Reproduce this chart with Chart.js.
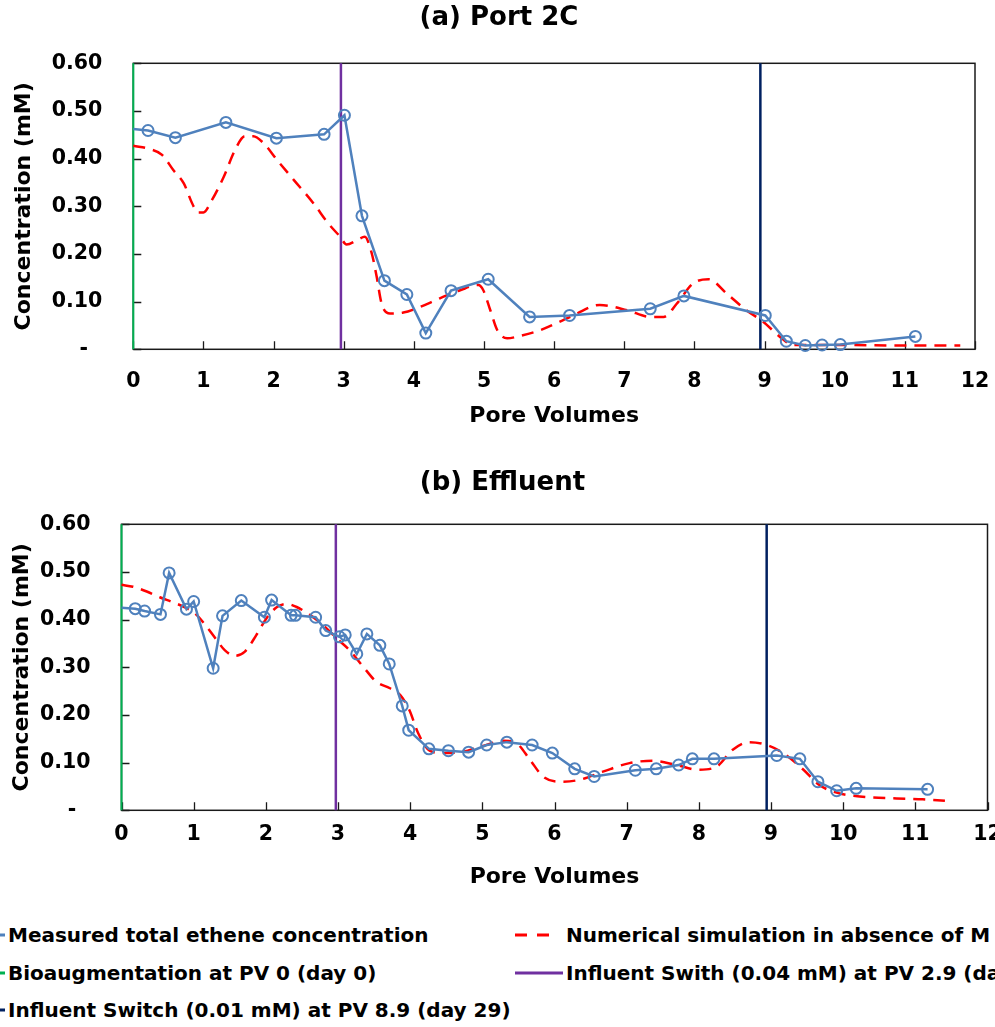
<!DOCTYPE html>
<html><head><meta charset="utf-8">
<script src="https://cdn.jsdelivr.net/npm/chart.js@4.4.1/dist/chart.umd.min.js"></script>
<style>
html,body{margin:0;padding:0;background:#fff;overflow:hidden;}
#wrap{position:relative;width:995px;height:1027px;overflow:hidden;background:#fff;}
canvas{position:absolute;left:0;}
.lg{position:absolute;font:bold 20px 'DejaVu Sans',sans-serif;color:#000;white-space:nowrap;line-height:24px;height:24px;}
.sym{position:absolute;overflow:visible;}
</style></head><body>
<div id="wrap">
<canvas id="c1" width="995" height="450" style="top:0"></canvas>
<canvas id="c2" width="995" height="455" style="top:450px"></canvas>
<div id="legend"></div>
</div>
<script>
// ---------- DATA ----------
const chartTitles = ['(a) Port 2C', '(b) Effluent'];
const xAxisTitle = 'Pore Volumes';
const yAxisTitle = 'Concentration (mM)';
const xTickLabels = ['0','1','2','3','4','5','6','7','8','9','10','11','12'];
const yTickLabels = ['-','0.10','0.20','0.30','0.40','0.50','0.60'];
const seriesLabels = [
  'Measured total ethene concentration',
  'Numerical simulation in absence of M',
  'Bioaugmentation at PV 0 (day 0)',
  'Influent Swith (0.04 mM) at PV 2.9 (day',
  'Influent Switch (0.01 mM) at PV 8.9 (day 29)'
];

// (a) Port 2C
const portPV   = [0, 0.21, 0.60, 1.32, 2.04, 2.72, 3.01, 3.26, 3.58, 3.90, 4.17, 4.53, 5.06, 5.65, 6.22, 7.37, 7.85, 9.01, 9.31, 9.58, 9.82, 10.08, 11.15];
const portConc = [0.462, 0.459, 0.444, 0.476, 0.443, 0.451, 0.491, 0.280, 0.144, 0.115, 0.034, 0.123, 0.147, 0.068, 0.071, 0.085, 0.112, 0.071, 0.017, 0.008, 0.009, 0.010, 0.027];
const portSimPV   = [0, 0.24, 0.41, 0.57, 0.72, 0.84, 0.92, 1.00, 1.12, 1.29, 1.45, 1.59, 1.71, 1.86, 2.05, 2.29, 2.57, 2.78, 2.95, 3.04, 3.19, 3.30, 3.40, 3.47, 3.54, 3.66, 3.85, 4.09, 4.37, 4.66, 4.92, 4.99, 5.09, 5.19, 5.33, 5.51, 5.80, 6.23, 6.65, 7.04, 7.37, 7.56, 7.75, 7.98, 8.20, 8.46, 8.74, 8.98, 9.22, 9.41, 10.08, 11.03, 11.79];
const portSimConc = [0.427, 0.420, 0.408, 0.376, 0.348, 0.306, 0.287, 0.287, 0.313, 0.362, 0.418, 0.447, 0.447, 0.432, 0.397, 0.355, 0.306, 0.264, 0.236, 0.220, 0.229, 0.236, 0.201, 0.152, 0.096, 0.075, 0.077, 0.089, 0.107, 0.124, 0.135, 0.124, 0.082, 0.040, 0.023, 0.028, 0.040, 0.068, 0.093, 0.082, 0.068, 0.068, 0.096, 0.138, 0.147, 0.117, 0.082, 0.058, 0.026, 0.009, 0.009, 0.008, 0.008];
const portEventPV = [0, 2.96, 8.94];

// (b) Effluent
const effPV   = [0, 0.19, 0.32, 0.54, 0.66, 0.90, 1.00, 1.27, 1.40, 1.66, 1.98, 2.08, 2.35, 2.41, 2.69, 2.83, 3.02, 3.10, 3.26, 3.40, 3.58, 3.71, 3.89, 3.98, 4.26, 4.53, 4.81, 5.06, 5.34, 5.69, 5.97, 6.28, 6.55, 7.12, 7.41, 7.72, 7.91, 8.21, 9.08, 9.40, 9.65, 9.91, 10.18, 11.17];
const effConc = [0.425, 0.423, 0.418, 0.411, 0.498, 0.422, 0.438, 0.298, 0.408, 0.440, 0.405, 0.441, 0.409, 0.409, 0.405, 0.377, 0.364, 0.368, 0.328, 0.370, 0.346, 0.307, 0.219, 0.168, 0.129, 0.125, 0.122, 0.137, 0.143, 0.137, 0.120, 0.087, 0.071, 0.084, 0.087, 0.095, 0.108, 0.108, 0.115, 0.108, 0.060, 0.041, 0.046, 0.044];
const effSimPV   = [0, 0.16, 0.35, 0.53, 0.72, 0.90, 1.04, 1.18, 1.32, 1.43, 1.57, 1.71, 1.87, 2.01, 2.15, 2.29, 2.42, 2.61, 2.79, 2.98, 3.16, 3.35, 3.53, 3.72, 3.86, 3.99, 4.11, 4.27, 4.45, 4.73, 5.01, 5.29, 5.47, 5.66, 5.84, 6.07, 6.35, 6.67, 7.04, 7.36, 7.69, 7.99, 8.24, 8.47, 8.70, 8.94, 9.17, 9.45, 9.67, 9.91, 10.23, 10.74, 11.10, 11.41];
const effSimConc = [0.473, 0.469, 0.459, 0.447, 0.436, 0.424, 0.410, 0.385, 0.357, 0.336, 0.324, 0.333, 0.368, 0.403, 0.426, 0.433, 0.427, 0.410, 0.389, 0.361, 0.336, 0.301, 0.270, 0.256, 0.242, 0.210, 0.162, 0.125, 0.120, 0.123, 0.135, 0.146, 0.141, 0.106, 0.071, 0.060, 0.064, 0.081, 0.099, 0.104, 0.095, 0.085, 0.091, 0.127, 0.143, 0.137, 0.120, 0.085, 0.053, 0.037, 0.029, 0.025, 0.023, 0.020];
const effEventPV = [0, 2.97, 8.94];

// ---------- STYLE ----------
const FONT = "'DejaVu Sans', sans-serif";
const colors = ['#4F81BD', '#FF0000', '#00B050', '#7030A0', '#002060'];
Chart.defaults.font.family = FONT;
Chart.defaults.color = '#000';

const pts = (xs, ys) => xs.map((x, i) => ({x, y: ys[i]}));
const vline = v => [{x: v, y: 0}, {x: v, y: 0.6}];

const framePlugin = {
  id: 'frame',
  beforeDatasetsDraw(chart) {
    const {ctx, chartArea: a, scales: {x, y}} = chart;
    ctx.save();
    ctx.strokeStyle = '#1a1a1a';
    ctx.lineWidth = 1.5;
    ctx.strokeRect(a.left, a.top, a.right - a.left, a.bottom - a.top);
    ctx.beginPath();
    ctx.lineWidth = 1.3;
    x.ticks.forEach(t => { const px = Math.round(x.getPixelForValue(t.value)) + 0.5; ctx.moveTo(px, a.bottom); ctx.lineTo(px, a.bottom - 8); });
    y.ticks.forEach(t => { const py = Math.round(y.getPixelForValue(t.value)) + 0.5; ctx.moveTo(a.left, py); ctx.lineTo(a.left + 8, py); });
    ctx.stroke();
    ctx.restore();
  }
};

function makeChart(id, title, mPV, mC, sPV, sC, ev, L) {
  return new Chart(document.getElementById(id), {
    type: 'line',
    data: {
      datasets: [
        { label: seriesLabels[0], data: pts(mPV, mC), borderColor: colors[0], borderWidth: 2.5,
          pointRadius: c => c.dataIndex === 0 ? 0 : 5.5, pointBorderWidth: 2, pointBorderColor: colors[0],
          pointBackgroundColor: 'rgba(255,255,255,0)', tension: 0, clip: false },
        { label: seriesLabels[1], data: pts(sPV, sC), borderColor: colors[1], borderWidth: 2.5,
          borderDash: [12, 8], pointRadius: 0, cubicInterpolationMode: 'monotone', clip: false },
        { label: seriesLabels[2], data: vline(ev[0]), borderColor: colors[2], borderWidth: 2, pointRadius: 0, clip: false },
        { label: seriesLabels[3], data: vline(ev[1]), borderColor: colors[3], borderWidth: 2.5, pointRadius: 0, clip: false },
        { label: seriesLabels[4], data: vline(ev[2]), borderColor: colors[4], borderWidth: 2.5, pointRadius: 0, clip: false }
      ]
    },
    options: {
      responsive: false, animation: false, events: [],
      layout: { padding: { left: L.padL, right: L.padR, top: 0, bottom: 0 } },
      plugins: {
        legend: { display: false }, tooltip: { enabled: false },
        title: { display: true, text: title, color: '#000', font: { size: 26, weight: 'bold' },
                 padding: { top: L.titleT, bottom: L.titleB } }
      },
      scales: {
        x: { type: 'linear', min: 0, max: 12,
             ticks: { stepSize: 1, autoSkip: false, maxRotation: 0, color: '#000', padding: L.xTickPad,
                      font: { size: 20.5, weight: 'bold' }, callback: (v, i) => xTickLabels[i] },
             grid: { display: false, drawTicks: false }, border: { display: false },
             title: { display: true, text: xAxisTitle, color: '#000', font: { size: 22, weight: 'bold' },
                      padding: { top: 0, bottom: L.xTitleB } },
             afterFit: s => { s.height = L.xAxisH; s.paddingLeft = 0; s.paddingRight = 0; } },
        y: { min: 0, max: 0.6,
             ticks: { stepSize: 0.1, color: '#000', padding: 31, font: { size: 20.5, weight: 'bold' },
                      callback: (v, i) => i === 0 ? yTickLabels[i] + '\u00a0\u00a0' : yTickLabels[i] },
             grid: { display: false, drawTicks: false }, border: { display: false },
             title: { display: true, text: yAxisTitle, color: '#000', font: { size: 22, weight: 'bold' },
                      padding: { top: L.yTitleT, bottom: 0 } },
             afterFit: s => { s.width = L.yAxisW; } }
      }
    },
    plugins: [framePlugin]
  });
}

// chart area: top left=133.3 right=975; bottom left=121.5 right=988
makeChart('c1', chartTitles[0], portPV, portConc, portSimPV, portSimConc, portEventPV,
  { padL: 23, padR: 20, titleT: 3, titleB: 29.1, xTickPad: 20, xTitleB: 21, xAxisH: 100.7, yTitleT: -12, yAxisW: 110.3 });
makeChart('c2', chartTitles[1], effPV, effConc, effSimPV, effSimConc, effEventPV,
  { padL: 17, padR: 7, titleT: 17.4, titleB: 25.7, xTickPad: 12, xTitleB: 15, xAxisH: 94.7, yTitleT: -8, yAxisW: 104.5 });

// ---------- LEGEND (HTML) ----------
const legendLayout = [
  { i: 0, x: 8,   y: 923, len: 48, dash: false },
  { i: 1, x: 566, y: 923, len: 36, dash: true },
  { i: 2, x: 8,   y: 961, len: 48, dash: false },
  { i: 3, x: 566, y: 961, len: 48, dash: false },
  { i: 4, x: 8,   y: 998, len: 48, dash: false }
];
const lg = document.getElementById('legend');
legendLayout.forEach(it => {
  const svgNS = 'http://www.w3.org/2000/svg';
  const svg = document.createElementNS(svgNS, 'svg');
  svg.setAttribute('class', 'sym');
  svg.setAttribute('width', String(it.len)); svg.setAttribute('height', '24');
  svg.style.left = (it.x - 51) + 'px'; svg.style.top = it.y + 'px';
  const ln = document.createElementNS(svgNS, 'line');
  ln.setAttribute('x1', '0'); ln.setAttribute('x2', String(it.len));
  ln.setAttribute('y1', '12'); ln.setAttribute('y2', '12');
  ln.setAttribute('stroke', colors[it.i]); ln.setAttribute('stroke-width', '3');
  if (it.dash) ln.setAttribute('stroke-dasharray', '12 10');
  svg.appendChild(ln); lg.appendChild(svg);
  const d = document.createElement('div');
  d.className = 'lg'; d.style.left = it.x + 'px'; d.style.top = it.y + 'px';
  d.textContent = seriesLabels[it.i];
  lg.appendChild(d);
});
</script>
</body></html>
